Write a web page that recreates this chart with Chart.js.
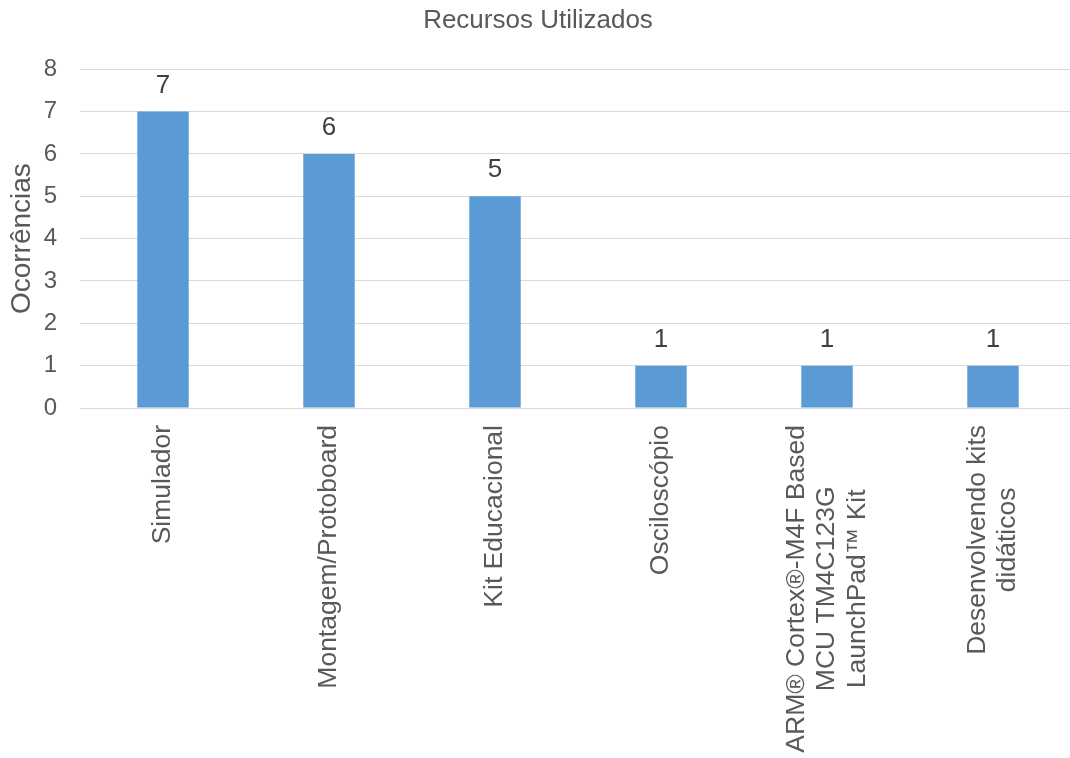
<!DOCTYPE html>
<html>
<head>
<meta charset="utf-8">
<script src="https://cdn.jsdelivr.net/npm/chart.js@4.4.1/dist/chart.umd.min.js"></script>
<style>
  body { margin: 0; background: #fff; overflow: hidden; }
</style>
</head>
<body>
<canvas id="bar-chart" width="1076" height="758"></canvas>
<script>
// dados do grafico
var recursos = [
    "Simulador",
    "Montagem/Protoboard",
    "Kit Educacional",
    "Osciloscópio",
    ["ARM® Cortex®-M4F Based", "MCU TM4C123G", "LaunchPad™ Kit"],
    ["Desenvolvendo kits", "didáticos"]
];
var ocorrencias = [7, 6, 5, 1, 1, 1];
var ticksY = [0, 1, 2, 3, 4, 5, 6, 7, 8];

var cinza = "#595959";
var azul = "#5B9BD5";
var fonte = "'Liberation Sans', Arial, sans-serif";

// rotulos com mais de uma linha: linhas centradas entre si e no tick
var centraLinhas = {
    id: "centraLinhas",
    beforeDraw: function(chart){
        var c = chart.ctx;
        var items = chart.scales.x.getLabelItems();
        items.forEach(function(item){
            if (!Array.isArray(item.label) || item._centrado) return;
            var n = item.label.length;
            c.save();
            c.font = item.font.string;
            var maior = 0;
            item.label.forEach(function(l){ maior = Math.max(maior, c.measureText(l).width); });
            c.restore();
            item.options.translation[0] -= (n - 1) * item.font.lineHeight / 2;
            item.options.translation[1] += maior / 2;
            item.options.textAlign = "center";
            item._centrado = true;
        });
    }
};

// valor em cima de cada barra
var valores = {
    id: "valores",
    afterDatasetsDraw: function(chart){
        var ctx = chart.ctx;
        var meta = chart.getDatasetMeta(0);
        ctx.save();
        ctx.font = "26px " + fonte;
        ctx.fillStyle = "#404040";
        ctx.textAlign = "center";
        ctx.textBaseline = "middle";
        meta.data.forEach(function(bar, i){
            ctx.fillText(ocorrencias[i], bar.x, bar.y - 26);
        });
        ctx.restore();
    }
};

var ctx = document.getElementById("bar-chart");
var chartGraph = new Chart(ctx, {
    type: "bar",
    data: {
        labels: recursos,
        datasets: [{
            label: "Ocorrências",
            data: ocorrencias,
            backgroundColor: azul,
            barPercentage: 0.31,
            categoryPercentage: 1
        }]
    },
    options: {
        responsive: false,
        animation: false,
        layout: { padding: 0 },
        plugins: {
            legend: { display: false },
            tooltip: { enabled: false },
            title: {
                display: true,
                text: "Recursos Utilizados",
                color: cinza,
                font: { family: fonte, size: 26, weight: "normal", lineHeight: 1.2 },
                padding: { top: 5, bottom: 33 }
            }
        },
        scales: {
            x: {
                grid: { display: false },
                border: { display: false },
                ticks: {
                    color: cinza,
                    font: { family: fonte, size: 26.5, lineHeight: 1.14 },
                    minRotation: 90,
                    maxRotation: 90,
                    autoSkip: false,
                    padding: 9
                },
                afterFit: function(scale){ scale.height = 350; }
            },
            y: {
                min: 0,
                max: 8,
                afterBuildTicks: function(scale){
                    scale.ticks = ticksY.map(function(v){ return { value: v }; });
                },
                grid: { color: "#d9d9d9", lineWidth: 1, drawTicks: false },
                border: { display: false },
                ticks: {
                    color: cinza,
                    font: { family: fonte, size: 24 },
                    padding: 23
                },
                title: {
                    display: true,
                    text: "Ocorrências",
                    color: cinza,
                    font: { family: fonte, size: 28, lineHeight: 1.2 },
                    padding: { top: 5, bottom: 0 }
                },
                afterFit: function(scale){ scale.width = 80; }
            }
        }
    },
    plugins: [centraLinhas, valores]
});
</script>
</body>
</html>
